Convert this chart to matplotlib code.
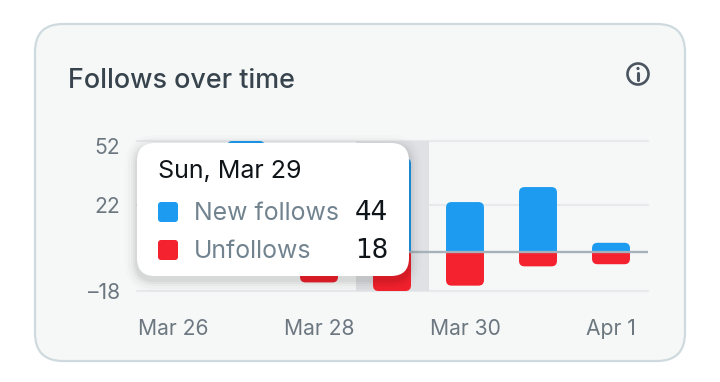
import matplotlib
matplotlib.use('Agg')
import matplotlib.pyplot as plt
from matplotlib.patches import FancyBboxPatch, PathPatch, Circle
from matplotlib.path import Path
from matplotlib.transforms import ScaledTranslation

plt.rcParams['font.family'] = ['Inter', 'DejaVu Sans']

days = ['Mar 26', 'Mar 27', 'Mar 28', 'Mar 29', 'Mar 30', 'Mar 31', 'Apr 1']
new_follows = [20, 52, 30, 44, 23.5, 30.5, 4.5]
unfollows = [5, 8, 14, 18, 15.5, 6.5, 5.5]
y_ticks = [-18, 22, 52]
x_labelled = ['Mar 26', 'Mar 28', 'Mar 30', 'Apr 1']
hover_day = 'Mar 29'
hover_title = 'Sun, Mar 29'
series_names = ['New follows', 'Unfollows']

BLUE = '#1D9BF0'
RED = '#F4212E'
W, H = 720, 382


def pixel_axes(fig, zorder):
    a = fig.add_axes([0, 0, 1, 1], zorder=zorder)
    a.set_xlim(0, W)
    a.set_ylim(H, 0)
    a.axis('off')
    a.patch.set_alpha(0)
    return a


def round_bar(ax, x, value, width, color, rx=0.075, ry=2.6):
    # square at the baseline, rounded at the far end
    left, right = x - width / 2, x + width / 2
    if abs(value) < ry:
        ry = abs(value)
    s = 1 if value > 0 else -1
    verts = [(left, 0), (left, value - s * ry), (left, value), (left + rx, value),
             (right - rx, value), (right, value), (right, value - s * ry), (right, 0), (left, 0)]
    codes = [Path.MOVETO, Path.LINETO, Path.CURVE3, Path.CURVE3,
             Path.LINETO, Path.CURVE3, Path.CURVE3, Path.LINETO, Path.CLOSEPOLY]
    ax.add_patch(PathPatch(Path(verts, codes), facecolor=color, edgecolor='none', zorder=3, clip_on=False))


fig = plt.figure(figsize=(W / 100, H / 100), dpi=100, facecolor='white')

# card
bg = pixel_axes(fig, 0)
bg.add_patch(FancyBboxPatch((35, 24), 650, 337, boxstyle='round,pad=0,rounding_size=28',
                            facecolor='#F6F8F8', edgecolor='#CFDADF', linewidth=1.6))
bg.text(68.5, 80.5, 'Follows over time', fontsize=19.4, fontweight='medium', color='#38444D', va='center', ha='left')
bg.add_patch(Circle((638, 74), 10.5, facecolor='none', edgecolor='#4A5560', linewidth=1.9))
bg.add_patch(Circle((638, 68.5), 1.6, facecolor='#4A5560', edgecolor='none'))
bg.plot([638, 638], [72.5, 80], color='#4A5560', linewidth=2.2, solid_capstyle='round')

# chart
ax = fig.add_axes([136.5 / W, 1 - 291 / H, 511 / W, 150 / H], zorder=1)
ax.patch.set_alpha(0)
x = list(range(len(days)))
ax.set_xlim(-0.5, 6.5)
ax.set_ylim(-18, 52)
for s in ax.spines.values():
    s.set_visible(False)
ax.set_yticks(y_ticks)
ax.set_yticklabels(['\u2013' + str(-t) if t < 0 else str(t) for t in y_ticks])
ax.set_xticks([days.index(d) for d in x_labelled])
ax.set_xticklabels(x_labelled)
ax.tick_params(axis='both', length=0, labelsize=15.2, labelcolor='#6C7780')
ax.tick_params(axis='x', pad=20.5)
ax.tick_params(axis='y', pad=12)
# top label sits under its gridline
top_label = ax.get_yticklabels()[-1]
top_label.set_verticalalignment('top')
top_label.set_transform(top_label.get_transform() + ScaledTranslation(0, 2 / 72, fig.dpi_scale_trans))
ax.grid(axis='y', color='#E6EAEC', linewidth=1.5, zorder=0)
ax.set_axisbelow(True)
for line in ax.get_ygridlines():
    line.set_clip_on(False)
h = days.index(hover_day)
ax.axvspan(h - 0.5, h + 0.5, color='#DFE1E4', linewidth=0, zorder=1)
for i in x:
    round_bar(ax, x[i], new_follows[i], 0.52, BLUE)
    round_bar(ax, x[i], -unfollows[i], 0.52, RED)
ax.axhline(0, color='#A6B1BA', linewidth=1.7, zorder=4)

# tooltip
fg = pixel_axes(fig, 2)
for grow, alpha in [(12, 0.012), (9, 0.018), (6, 0.025), (4, 0.03), (2, 0.04)]:
    fg.add_patch(FancyBboxPatch((137 - grow, 143 - grow + 4), 272 + 2 * grow, 133 + 2 * grow,
                                boxstyle='round,pad=0,rounding_size=%d' % (18 + grow),
                                facecolor='black', edgecolor='none', alpha=alpha))
fg.add_patch(FancyBboxPatch((137, 143), 272, 133, boxstyle='round,pad=0,rounding_size=18',
                            facecolor='white', edgecolor='none'))
fg.text(158, 172, hover_title, fontsize=18, color='#0F1419', va='center', ha='left')
rows = [(212, BLUE, series_names[0], new_follows[h]), (250, RED, series_names[1], unfollows[h])]
for yc, col, name, val in rows:
    fg.add_patch(FancyBboxPatch((158, yc - 10), 20, 20, boxstyle='round,pad=0,rounding_size=3',
                                facecolor=col, edgecolor='none'))
    fg.text(194, yc + 2, name, fontsize=17.9, color='#728390', va='center', ha='left')
    fg.text(388, yc + 1, str(val), fontsize=18.8, color='#0F1419', va='center', ha='right',
            family='DejaVu Sans')

plt.savefig('out.png', dpi=100)
plt.close()
